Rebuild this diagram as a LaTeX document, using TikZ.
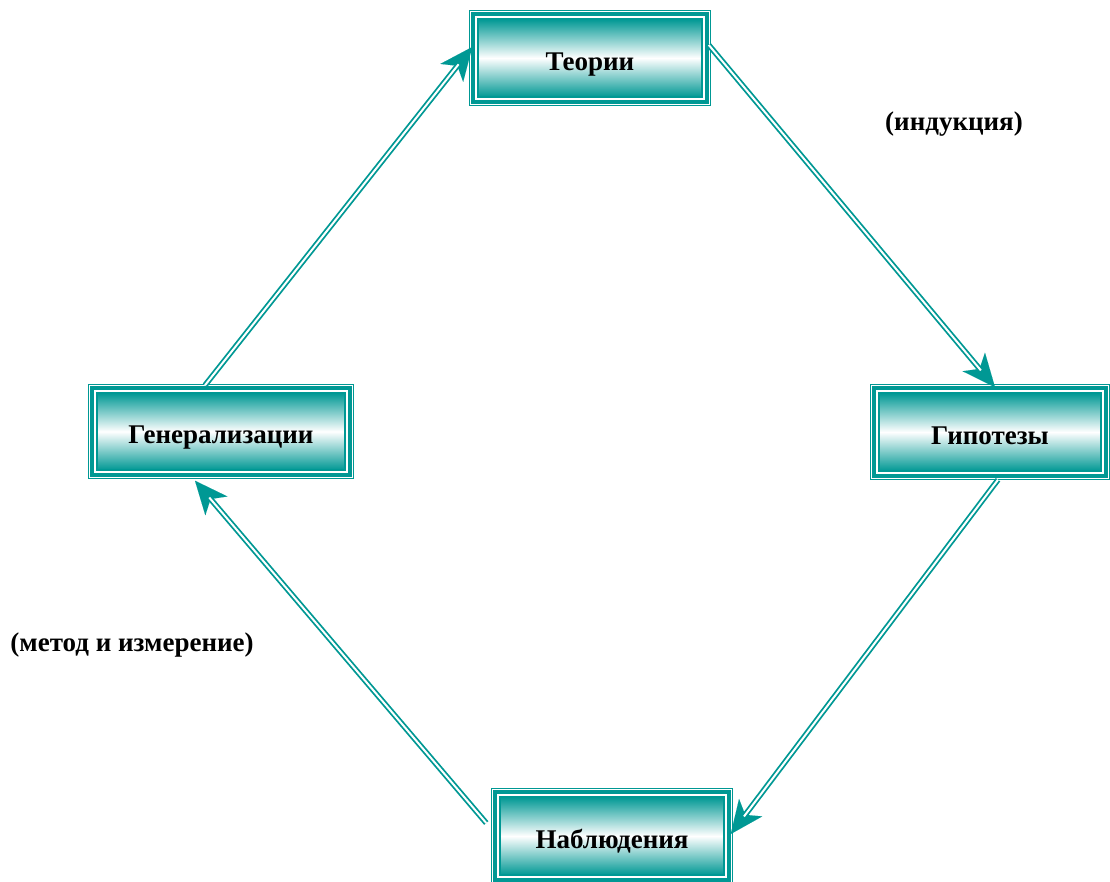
\documentclass[tikz,border=0pt]{standalone}
\usepackage{fontspec}
\setmainfont{Liberation Serif}
\usetikzlibrary{arrows.meta,calc}
\definecolor{tl}{RGB}{0,152,148}
\tikzset{
  box/.style={draw=tl, line width=1.5pt, top color=tl, bottom color=tl, middle color=white,
    inner sep=0pt, text height=30pt, text depth=6pt, font=\fontsize{27}{30}\selectfont\bfseries},
  lbl/.style={font=\fontsize{27}{30}\selectfont\bfseries, inner sep=0pt},
  dbl/.style={draw=tl, double=white, line width=1.8pt, double distance=2pt, shorten >=22pt},
  head/.style={draw=tl, fill=tl, line width=0.01pt, -{Stealth[length=33pt,width=29pt,inset=9pt]}}
}
\begin{document}
\begin{tikzpicture}[x=1pt,y=-1pt]
\useasboundingbox (0,0) rectangle (1110,881);
\node[box, minimum width=224pt, minimum height=78pt] (T) at (590,58) {Теории};
\node[box, minimum width=248pt, minimum height=77pt] (G) at (221,431.5) {Генерализации};
\node[box, minimum width=222pt, minimum height=78pt] (H) at (990,432) {Гипотезы};
\node[box, minimum width=224pt, minimum height=78pt] (N) at (612,836) {Наблюдения};
\foreach \n in {T,G,H,N} {
  \draw[tl, line width=4pt] ([xshift=-4pt,yshift=4pt]\n.north west) rectangle ([xshift=4pt,yshift=-4pt]\n.south east);
  \draw[tl, line width=1pt] ([xshift=-7.5pt,yshift=7.5pt]\n.north west) rectangle ([xshift=7.5pt,yshift=-7.5pt]\n.south east);
}
\node[lbl] (ind) at (954,124) {(индукция)};
\node[lbl] (met) at (132,645) {(метод и измерение)};
% connectors
\coordinate (a1) at ([xshift=-16pt,yshift=7pt]G.north);
\coordinate (b1) at ([xshift=-5pt,yshift=11pt]T.west);
\coordinate (a2) at ([xshift=6pt,yshift=13pt]T.east);
\coordinate (b2) at ([xshift=5pt,yshift=5pt]H.north);
\coordinate (a3) at ([xshift=8pt,yshift=-8pt]H.south);
\coordinate (b3) at ([xshift=6pt,yshift=2pt]N.east);
\coordinate (a4) at ([xshift=-13pt,yshift=13pt]N.west);
\coordinate (b4) at ([xshift=-26pt,yshift=-10pt]G.south);
\foreach \a/\b in {a1/b1,a2/b2,a3/b3,a4/b4} {
  \draw[head] ($(\b)!28pt!(\a)$) -- (\b);
  \draw[dbl] (\a) -- (\b);
}
\end{tikzpicture}
\end{document}
